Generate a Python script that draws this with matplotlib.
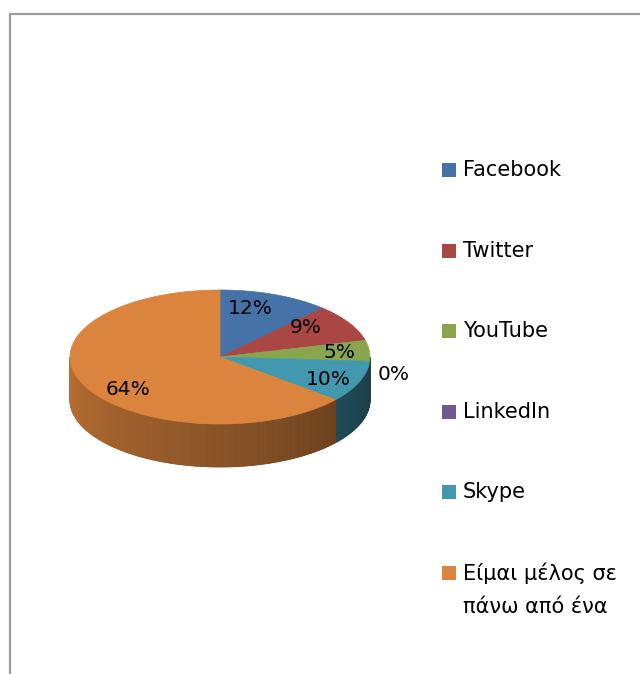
import numpy as np
import matplotlib.pyplot as plt
from matplotlib.patches import Polygon, Rectangle
from matplotlib.colors import to_rgb

categories = ['Facebook', 'Twitter', 'YouTube', 'LinkedIn', 'Skype',
              'Είμαι μέλος σε\nπάνω από ένα']
values = [12, 9, 5, 0, 10, 64]
colors = ['#4572A7', '#AA4643', '#89A54E', '#71588F', '#4198AF', '#DB843D']
label_r = [0.68, 0.72, 0.8, 1.16, 0.75, 0.62]
# small hand nudges of the labels, in px (right, down)
label_nudge = [(-7, -6), (-7, -5), (0, 1), (0, 13), (4, 4), (-8, 15)]

W, H = 640, 674
cx, cy, R = 220, 357, 150      # centre of top face (px) and radius
k = 67 / 150                   # vertical squash of the ellipse
depth = 43 / 150               # side wall height

fig = plt.figure(figsize=(W / 100, H / 100), dpi=100)
ax = fig.add_axes([0, 0, 1, 1])
ax.set_xlim(-cx / R, (W - cx) / R)
ax.set_ylim(-(H - cy) / R, cy / R)
ax.axis('off')

def pt(t, drop=0.0):
    t = np.radians(t)
    return np.cos(t), k * np.sin(t) - drop

# slice angles, clockwise from 12 o'clock
total = sum(values)
starts, ends = [], []
a = 90.0
for v in values:
    starts.append(a)
    a -= v / total * 360
    ends.append(a)

# side walls (front half only), drawn as thin shaded strips
for col, s, e in zip(colors, starts, ends):
    lo, hi = e, s
    for shift in (0, -360):
        a0, a1 = max(lo + shift, -180), min(hi + shift, 0)
        if a1 <= a0:
            continue
        ts = np.linspace(a0, a1, max(2, int((a1 - a0) * 2)))
        base = np.array(to_rgb(col))
        for t1, t2 in zip(ts[:-1], ts[1:]):
            f = 0.85 - 0.45 * ((t1 + t2) / 2 + 180) / 180
            c = np.clip(base * f, 0, 1)
            poly = [pt(t1), pt(t2), pt(t2, depth), pt(t1, depth)]
            ax.add_patch(Polygon(poly, closed=True, facecolor=c,
                                 edgecolor=c, lw=0.6))

# top face wedges
for col, s, e in zip(colors, starts, ends):
    if s - e <= 0:
        continue
    ts = np.linspace(s, e, 200)
    poly = [(0, 0)] + [pt(t) for t in ts]
    ax.add_patch(Polygon(poly, closed=True, facecolor=col,
                         edgecolor=col, lw=0.5))

# percentage labels
for v, s, e, r, (dx, dy) in zip(values, starts, ends, label_r, label_nudge):
    m = np.radians((s + e) / 2)
    ax.text(r * np.cos(m) + dx / R, k * r * np.sin(m) - dy / R, f'{v}%',
            fontsize=14.5, ha='center', va='center', color='black')

# legend
for i, (name, col) in enumerate(zip(categories, colors)):
    y = 170 + i * 80.6
    fig.patches.append(Rectangle((442 / W, 1 - (y + 7) / H), 14 / W, 14 / H,
                                 transform=fig.transFigure, facecolor=col,
                                 edgecolor='none'))
    if '\n' in name:
        fig.text(463 / W, 1 - (y - 10) / H, name, fontsize=15, va='top',
                 ha='left', linespacing=1.78, transform=fig.transFigure)
    else:
        fig.text(463 / W, 1 - y / H, name, fontsize=15, va='center',
                 ha='left', transform=fig.transFigure)

# chart area border
fig.patches.append(Rectangle((10 / W, -0.1), 1.2, 1 - 14 / H + 0.1,
                             transform=fig.transFigure, fill=False,
                             edgecolor='#9c9c9c', lw=1.6))

fig.savefig('out.png', dpi=100, facecolor='white')
